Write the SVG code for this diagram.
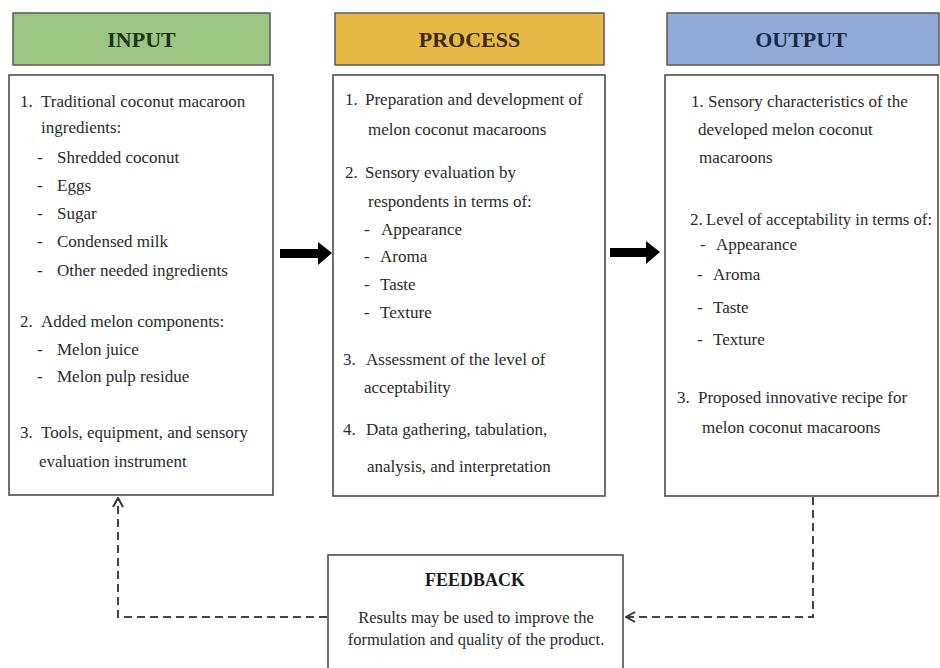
<svg xmlns="http://www.w3.org/2000/svg" width="940" height="668" viewBox="0 0 940 668">
<defs>
<style>
.hdr{stroke:#5a5a5a;stroke-width:1.5}
.box{fill:#fff;stroke:#4d4d4d;stroke-width:1.6}
.t{font-family:"Liberation Serif","Times New Roman",serif;font-size:17px;fill:#2a2a2a}
.h{font-family:"Liberation Serif","Times New Roman",serif;font-size:22px;font-weight:bold;text-anchor:middle}
.fb{font-family:"Liberation Serif","Times New Roman",serif;font-size:18px;font-weight:bold;text-anchor:middle;fill:#1a1a1a}
.fc{font-family:"Liberation Serif","Times New Roman",serif;font-size:16.5px;text-anchor:middle;fill:#2a2a2a}
.dash{fill:none;stroke:#444;stroke-width:2;stroke-dasharray:8 5}
.big{fill:#000}
</style>
<marker id="chev" viewBox="0 0 12 12" refX="11" refY="6" markerWidth="12" markerHeight="12" markerUnits="userSpaceOnUse" orient="auto">
<path d="M2,1 L11,6 L2,11" fill="none" stroke="#333" stroke-width="2"/>
</marker>
</defs>
<rect width="940" height="668" fill="#fff"/>

<g id="input">
<rect class="hdr" x="13" y="13" width="257" height="52" fill="#9dc683"/>
<text class="h" x="141.5" y="47" fill="#1f3316">INPUT</text>
<rect class="box" x="9" y="75" width="264" height="420"/>
<text class="t" x="20" y="107">1.</text><text class="t" x="41" y="107">Traditional coconut macaroon</text>
<text class="t" x="41" y="133">ingredients:</text>
<text class="t" x="37" y="163">-</text><text class="t" x="57" y="163">Shredded coconut</text>
<text class="t" x="37" y="191">-</text><text class="t" x="57" y="191">Eggs</text>
<text class="t" x="37" y="219">-</text><text class="t" x="57" y="219">Sugar</text>
<text class="t" x="37" y="247">-</text><text class="t" x="57" y="247">Condensed milk</text>
<text class="t" x="37" y="276">-</text><text class="t" x="57" y="276">Other needed ingredients</text>
<text class="t" x="20" y="327">2.</text><text class="t" x="41" y="327">Added melon components:</text>
<text class="t" x="37" y="355">-</text><text class="t" x="57" y="355">Melon juice</text>
<text class="t" x="37" y="382">-</text><text class="t" x="57" y="382">Melon pulp residue</text>
<text class="t" x="20" y="438">3.</text><text class="t" x="41" y="438">Tools, equipment, and sensory</text>
<text class="t" x="39" y="467">evaluation instrument</text>
</g>

<g id="process">
<rect class="hdr" x="335" y="13" width="269" height="52" fill="#e6b846"/>
<text class="h" x="469.5" y="47" fill="#3a2a08">PROCESS</text>
<rect class="box" x="333" y="75" width="272" height="421"/>
<text class="t" x="345" y="105">1.</text><text class="t" x="365" y="105">Preparation and development of</text>
<text class="t" x="368" y="135">melon coconut macaroons</text>
<text class="t" x="345" y="178">2.</text><text class="t" x="365" y="178">Sensory evaluation by</text>
<text class="t" x="368" y="207">respondents in terms of:</text>
<text class="t" x="364" y="235">-</text><text class="t" x="381" y="235">Appearance</text>
<text class="t" x="364" y="262">-</text><text class="t" x="380" y="262">Aroma</text>
<text class="t" x="364" y="290">-</text><text class="t" x="380" y="290">Taste</text>
<text class="t" x="364" y="318">-</text><text class="t" x="380" y="318">Texture</text>
<text class="t" x="343" y="365">3.</text><text class="t" x="366" y="365">Assessment of the level of</text>
<text class="t" x="364" y="393">acceptability</text>
<text class="t" x="343" y="435">4.</text><text class="t" x="366" y="435">Data gathering, tabulation,</text>
<text class="t" x="367" y="472">analysis, and interpretation</text>
</g>

<g id="output">
<rect class="hdr" x="667" y="13" width="272" height="52" fill="#90abd8"/>
<text class="h" x="801" y="47" fill="#1c2a48">OUTPUT</text>
<rect class="box" x="665" y="75" width="273" height="421"/>
<text class="t" x="691" y="107">1.</text><text class="t" x="708" y="107">Sensory characteristics of the</text>
<text class="t" x="698" y="135">developed melon coconut</text>
<text class="t" x="699" y="163">macaroons</text>
<text class="t" x="690" y="225">2.</text><text class="t" x="706" y="225" textLength="226" lengthAdjust="spacingAndGlyphs">Level of acceptability in terms of:</text>
<text class="t" x="700" y="250">-</text><text class="t" x="716" y="250">Appearance</text>
<text class="t" x="697" y="280">-</text><text class="t" x="713" y="280">Aroma</text>
<text class="t" x="697" y="313">-</text><text class="t" x="713" y="313">Taste</text>
<text class="t" x="697" y="345">-</text><text class="t" x="713" y="345">Texture</text>
<text class="t" x="677" y="403">3.</text><text class="t" x="698" y="403">Proposed innovative recipe for</text>
<text class="t" x="702" y="433">melon coconut macaroons</text>
</g>

<g id="feedback">
<rect class="box" x="328" y="555" width="295" height="118"/>
<text class="fb" x="475" y="586">FEEDBACK</text>
<text class="fc" x="476" y="623">Results may be used to improve the</text>
<text class="fc" x="476" y="645">formulation and quality of the product.</text>
</g>

<g id="connectors">
<path class="big" d="M280,249 L318,249 L318,242 L332,253 L318,265 L318,258 L280,258 Z"/>
<path class="big" d="M610,248 L646,248 L646,241 L660,252 L646,264 L646,257 L610,257 Z"/>
<path class="dash" d="M813,497 L813,617 L626,617" marker-end="url(#chev)"/>
<path class="dash" d="M327,617 L118,617 L118,498" marker-end="url(#chev)"/>
</g>
</svg>
